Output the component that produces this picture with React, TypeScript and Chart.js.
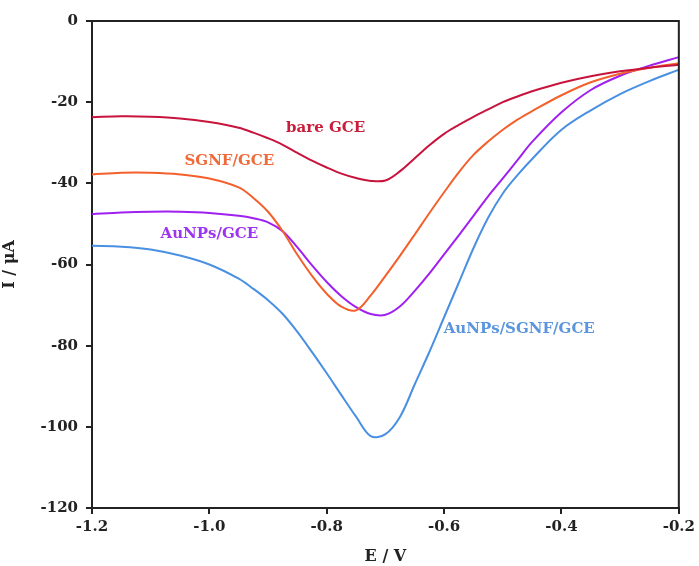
import React, { useEffect, useRef } from 'react';
import { Chart, registerables } from 'chart.js';

Chart.register(...registerables);

const potentials = [-1.2, -1.15, -1.1, -1.05, -1.0, -0.95, -0.925, -0.9, -0.875, -0.85, -0.825, -0.8, -0.775, -0.75, -0.725, -0.7, -0.675, -0.65, -0.625, -0.6, -0.575, -0.55, -0.525, -0.5, -0.475, -0.45, -0.4, -0.35, -0.3, -0.25, -0.2];

const bareGCE = [-23.7, -23.5, -23.6, -24.0, -24.9, -26.3, -27.5, -28.9, -30.5, -32.5, -34.4, -36.1, -37.6, -38.7, -39.4, -39.3, -37.0, -33.8, -30.6, -27.8, -25.6, -23.6, -21.8, -20.0, -18.6, -17.3, -15.2, -13.6, -12.4, -11.5, -10.8];
const sgnfGCE = [-37.8, -37.4, -37.4, -37.8, -38.8, -41.0, -43.6, -47.0, -51.8, -57.6, -62.8, -67.2, -70.4, -71.3, -67.6, -62.8, -57.8, -52.6, -47.3, -42.2, -37.3, -33.0, -29.7, -26.8, -24.3, -22.2, -18.3, -15.1, -13.0, -11.5, -10.4];
const auGCE = [-47.6, -47.2, -47.0, -47.0, -47.3, -48.0, -48.6, -49.6, -51.8, -55.8, -60.2, -64.3, -67.8, -70.5, -72.2, -72.4, -70.3, -66.5, -62.2, -57.5, -52.8, -48.0, -43.2, -38.8, -34.3, -29.8, -22.5, -17.0, -13.5, -11.0, -8.9];
const auSgnfGCE = [-55.4, -55.6, -56.3, -57.8, -60.0, -63.5, -66.0, -68.8, -72.2, -76.6, -81.6, -86.8, -92.2, -97.5, -102.3, -101.8, -97.5, -89.5, -81.5, -73.0, -64.5, -56.0, -48.5, -42.5, -38.0, -34.0, -26.8, -22.0, -18.0, -14.8, -12.0];

const seriesNames = ['bare GCE', 'SGNF/GCE', 'AuNPs/GCE', 'AuNPs/SGNF/GCE'];
const seriesValues = [bareGCE, sgnfGCE, auGCE, auSgnfGCE];
const lineColors = ['#c8143c', '#f4602c', '#a020f0', '#4a90e2'];
const textColors = ['#c81e3c', '#f06a3a', '#9d35f0', '#5b95dd'];
// label anchor positions in data coordinates (E, I)
const labelE = [-0.802, -0.966, -1.0, -0.472];
const labelI = [-26.4, -34.5, -52.5, -75.9];

const xTicks = [-1.2, -1.0, -0.8, -0.6, -0.4, -0.2];
const yTicks = [0, -20, -40, -60, -80, -100, -120];

const FONT = '"DejaVu Serif", serif';

const framePlugin = {
  id: 'frameAndLabels',
  afterDatasetsDraw(chart: any) {
    const { ctx, chartArea: a, scales } = chart;
    const x = scales.x;
    const y = scales.y;
    ctx.save();
    ctx.strokeStyle = '#222';
    ctx.lineWidth = 2;
    ctx.beginPath();
    ctx.moveTo(a.left, a.top);
    ctx.lineTo(a.right, a.top);
    ctx.lineTo(a.right, a.bottom);
    ctx.stroke();
    ctx.font = 'bold 15px ' + FONT;
    ctx.textAlign = 'center';
    ctx.textBaseline = 'middle';
    seriesNames.forEach((name, i) => {
      ctx.fillStyle = textColors[i];
      ctx.fillText(name, x.getPixelForValue(labelE[i]), y.getPixelForValue(labelI[i]));
    });
    ctx.restore();
  },
};

export default function App() {
  const canvasRef = useRef<HTMLCanvasElement | null>(null);

  useEffect(() => {
    if (!canvasRef.current) return;
    const datasets = seriesNames.map((name, i) => ({
      label: name,
      data: potentials.map((e, j) => ({ x: e, y: seriesValues[i][j] })),
      borderColor: lineColors[i],
      backgroundColor: lineColors[i],
      borderWidth: 2,
      pointRadius: 0,
      fill: false,
      tension: 0.35,
    }));
    const chart = new Chart(canvasRef.current, {
      type: 'line',
      data: { datasets },
      plugins: [framePlugin],
      options: {
        animation: false,
        responsive: false,
        maintainAspectRatio: false,
        layout: { padding: { left: 0, top: 21, right: 16, bottom: 0 } },
        plugins: { legend: { display: false }, tooltip: { enabled: false } },
        scales: {
          x: {
            type: 'linear',
            min: -1.2,
            max: -0.2,
            afterBuildTicks: (s: any) => { s.ticks = xTicks.map((v) => ({ value: v })); },
            afterFit: (s: any) => { s.height = 58; },
            ticks: {
              color: '#222',
              font: { family: FONT, size: 15, weight: 'bold' },
              padding: 4,
              callback: (v: any) => Number(v).toFixed(1),
            },
            grid: { display: true, drawOnChartArea: false, drawTicks: true, tickLength: 6, color: '#222', lineWidth: 2 },
            border: { display: true, color: '#222', width: 2 },
            title: { display: true, text: 'E / V', color: '#222', font: { family: FONT, size: 16, weight: 'bold' }, padding: { top: 2, bottom: 0 } },
          },
          y: {
            type: 'linear',
            min: -120,
            max: 0,
            afterBuildTicks: (s: any) => { s.ticks = yTicks.map((v) => ({ value: v })); },
            afterFit: (s: any) => { s.width = 92; },
            ticks: {
              color: '#222',
              font: { family: FONT, size: 15, weight: 'bold' },
              padding: 8,
              callback: (v: any) => String(v),
            },
            grid: { display: true, drawOnChartArea: false, drawTicks: true, tickLength: 6, color: '#222', lineWidth: 2 },
            border: { display: true, color: '#222', width: 2 },
            title: { display: true, text: 'I / μA', color: '#222', font: { family: FONT, size: 16, weight: 'bold' }, padding: { top: 0, bottom: 4 } },
          },
        },
      },
    });
    return () => chart.destroy();
  }, []);

  return (
    <div style={{ position: 'fixed', left: 0, top: 0, width: 699, height: 566, background: '#fff' }}>
      <canvas ref={canvasRef} width={699} height={566} style={{ display: 'block' }} />
    </div>
  );
}
